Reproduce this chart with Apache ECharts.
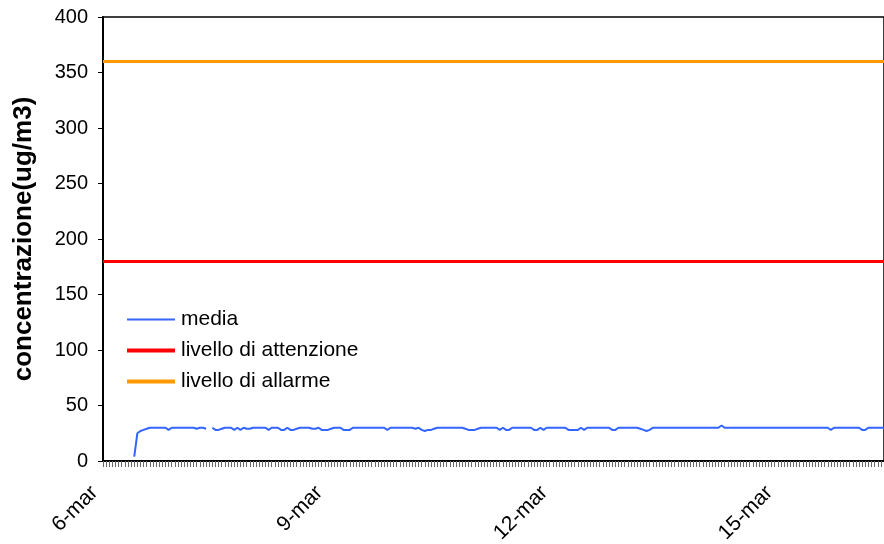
<!DOCTYPE html>
<html>
<head>
<meta charset="utf-8">
<script src="https://cdn.jsdelivr.net/npm/echarts@6/dist/echarts.min.js"></script>
<style>
  html, body { margin: 0; padding: 0; background: #fff; }
  #chart { width: 884px; height: 544px; }
</style>
</head>
<body>
<div id="chart"></div>
<script>
// days covered by the hourly series (axis categories are built from these)
const days = ["6-mar", "7-mar", "8-mar", "9-mar", "10-mar", "11-mar",
  "12-mar", "13-mar", "14-mar", "15-mar", "16-mar"];
const hoursCount = 251;

// hourly mean concentration (ug/m3)
const media = [
  null, null, null, null, null, null, null, null, null, null,
  4, 25, 27, 28, 29, 30, 30, 30, 30, 30,
  30, 28, 30, 30, 30, 30, 30, 30, 30, 30,
  29, 30, 30, 29, null, 30, 28, 28, 29, 30,
  30, 30, 28, 30, 28, 30, 29, 29, 30, 30,
  30, 30, 30, 28, 30, 30, 30, 28, 28, 30,
  28, 28, 29, 30, 30, 30, 30, 29, 29, 30,
  28, 28, 28, 29, 30, 30, 30, 28, 28, 28,
  30, 30, 30, 30, 30, 30, 30, 30, 30, 30,
  30, 28, 30, 30, 30, 30, 30, 30, 30, 30,
  29, 30, 28, 27, 28, 28, 29, 30, 30, 30,
  30, 30, 30, 30, 30, 30, 29, 28, 28, 28,
  29, 30, 30, 30, 30, 30, 30, 28, 30, 28,
  28, 30, 30, 30, 30, 30, 30, 30, 28, 28,
  30, 28, 30, 30, 30, 30, 30, 30, 30, 28,
  28, 28, 28, 30, 28, 30, 30, 30, 30, 30,
  30, 30, 30, 28, 28, 30, 30, 30, 30, 30,
  30, 30, 29, 28, 27, 28, 30, 30, 30, 30,
  30, 30, 30, 30, 30, 30, 30, 30, 30, 30,
  30, 30, 30, 30, 30, 30, 30, 30, 32, 30,
  30, 30, 30, 30, 30, 30, 30, 30, 30, 30,
  30, 30, 30, 30, 30, 30, 30, 30, 30, 30,
  30, 30, 30, 30, 30, 30, 30, 30, 30, 30,
  30, 30, 30, 28, 30, 30, 30, 30, 30, 30,
  30, 30, 30, 28, 28, 30, 30, 30, 30, 30,
  30
];

const livelloAttenzione = 180;
const livelloAllarme = 360;

const yTicks = [0, 50, 100, 150, 200, 250, 300, 350, 400];

const categories = [];
for (let i = 0; i < hoursCount; i++) {
  const d = days[Math.floor(i / 24)];
  categories.push(d + " " + (i % 24) + "h");
}

const font = "Liberation Sans";
const chart = echarts.init(document.getElementById("chart"));

const legendItem = (name, top, height) => ({
  data: [{ name: name, icon: "rect" }],
  left: 127,
  top: top,
  orient: "vertical",
  itemWidth: 48,
  itemHeight: height,
  itemGap: 0,
  padding: 0,
  textStyle: { fontFamily: font, fontSize: 21, color: "#000", padding: [0, 0, 0, 1] }
});

chart.setOption({
  animation: false,
  backgroundColor: "#fff",
  grid: {
    left: 103, right: 0, top: 17, bottom: 83,
    outerBoundsMode: "none",
    show: true, borderColor: "#000", borderWidth: 1.5
  },
  legend: [
    legendItem("media", 309, 2),
    legendItem("livello di attenzione", 340, 4),
    legendItem("livello di allarme", 371, 4)
  ],
  xAxis: {
    type: "category",
    data: categories,
    boundaryGap: false,
    axisLine: { lineStyle: { color: "#000", width: 2 } },
    axisTick: { show: true, interval: 0, length: 6, lineStyle: { color: "#666", width: 1 } },
    axisLabel: {
      interval: 71,
      rotate: 45,
      margin: 20,
      padding: [0, 12, 0, 0],
      fontFamily: font,
      fontSize: 21,
      color: "#000",
      formatter: v => v.split(" ")[0]
    },
    splitLine: { show: false }
  },
  yAxis: {
    type: "value",
    min: yTicks[0],
    max: yTicks[yTicks.length - 1],
    interval: 50,
    name: "concentrazione(ug/m3)",
    nameLocation: "middle",
    nameGap: 66,
    nameTextStyle: { fontFamily: font, fontSize: 26, fontWeight: "bold", color: "#000" },
    axisLine: { show: true, lineStyle: { color: "#000", width: 2 } },
    axisTick: { show: true, length: 5, lineStyle: { color: "#000" } },
    axisLabel: { fontFamily: font, fontSize: 20, color: "#000", margin: 15 },
    splitLine: { show: false }
  },
  series: [
    {
      name: "media",
      type: "line",
      data: media,
      color: "#3366ff",
      symbol: "none",
      connectNulls: false,
      lineStyle: { width: 2, color: "#3366ff" }
    },
    {
      name: "livello di attenzione",
      type: "line",
      data: [],
      color: "#ff0000",
      symbol: "none",
      markLine: {
        silent: true, symbol: "none", label: { show: false },
        lineStyle: { type: "solid", color: "#ff0000", width: 3 },
        data: [{ yAxis: livelloAttenzione }]
      }
    },
    {
      name: "livello di allarme",
      type: "line",
      data: [],
      color: "#ff9900",
      symbol: "none",
      markLine: {
        silent: true, symbol: "none", label: { show: false },
        lineStyle: { type: "solid", color: "#ff9900", width: 3 },
        data: [{ yAxis: livelloAllarme }]
      }
    }
  ]
});
</script>
</body>
</html>
